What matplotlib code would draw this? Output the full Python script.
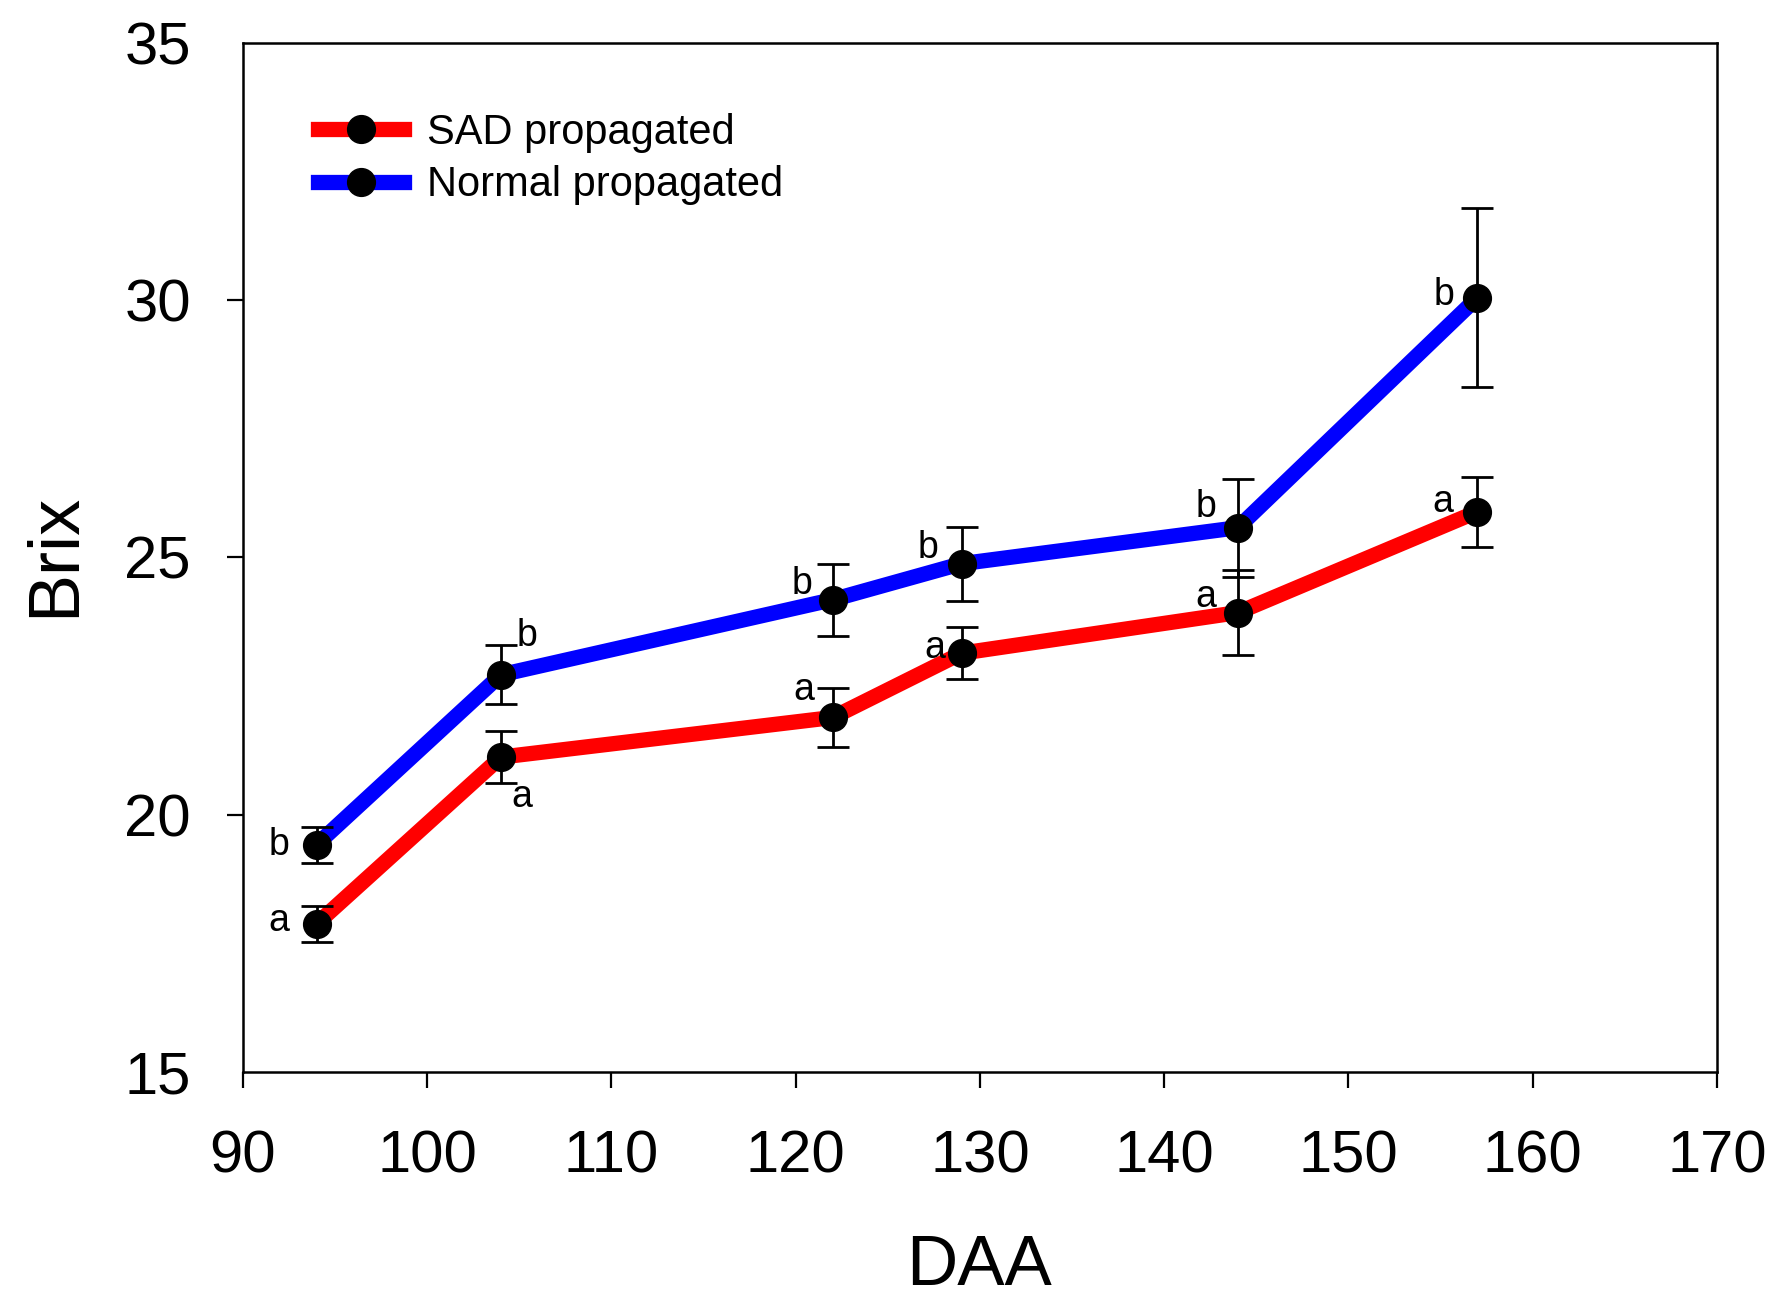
import matplotlib
matplotlib.use("Agg")
import matplotlib.pyplot as plt
from matplotlib.lines import Line2D

plt.rcParams['font.family'] = ['Liberation Sans', 'DejaVu Sans']

# Données
daa = [94, 104, 122, 129, 144, 157]
sad_brix = [17.88, 21.12, 21.89, 23.14, 23.93, 25.89]
sad_err = [0.35, 0.50, 0.57, 0.50, 0.82, 0.68]
normal_brix = [19.42, 22.72, 24.18, 24.88, 25.58, 30.05]
normal_err = [0.35, 0.57, 0.70, 0.72, 0.95, 1.74]
sad_letters = ['a', 'a', 'a', 'a', 'a', 'a']
normal_letters = ['b', 'b', 'b', 'b', 'b', 'b']

# décalage des lettres (points)
sad_offsets = [(-27, 2), (15, -29), (-21, 20), (-19, 4), (-23, 11), (-25, 7)]
normal_offsets = [(-27, 0), (19, 28), (-22, 11), (-24, 11), (-23, 15), (-24, 2)]

fig = plt.figure(figsize=(17.75, 13.03), dpi=100)
ax = fig.add_axes([0.1369, 0.1773, 0.8304, 0.7897])

series = [
    (sad_brix, sad_err, 'red', sad_letters, sad_offsets),
    (normal_brix, normal_err, 'blue', normal_letters, normal_offsets),
]
for y, err, col, letters, offs in series:
    ax.plot(daa, y, color=col, lw=11, solid_capstyle='round', zorder=2)
    ax.errorbar(daa, y, yerr=err, fmt='none', ecolor='black', elinewidth=2,
                capsize=11.5, capthick=2, zorder=3)
    ax.plot(daa, y, 'o', color='black', ms=20, zorder=4)
    for xi, yi, lab, off in zip(daa, y, letters, offs):
        ax.annotate(lab, (xi, yi), xytext=off, textcoords='offset points',
                    ha='center', va='center', fontsize=27, zorder=5)

ax.set_xlim(90, 170)
ax.set_ylim(15, 35)
ax.set_xticks(range(90, 171, 10))
ax.set_yticks(range(15, 36, 5))
ax.tick_params(direction='out', length=11.5, width=1.6, labelsize=43)
ax.tick_params(axis='x', pad=30)
ax.tick_params(axis='y', pad=26)
for sp in ax.spines.values():
    sp.set_linewidth(1.8)
yt = ax.yaxis.get_major_ticks()
yt[0].tick1line.set_visible(False)
yt[-1].tick1line.set_visible(False)

fig.text(0.5515, 1 - 1285 / 1303, 'DAA', fontsize=51, ha='center', va='baseline')
fig.text(74 / 1775, 0.574, 'Brix', fontsize=52, rotation=90, ha='center',
         va='baseline', rotation_mode='anchor')

handles = [
    Line2D([], [], color='red', lw=11, marker='o', ms=20, mfc='black', mec='black'),
    Line2D([], [], color='blue', lw=11, marker='o', ms=20, mfc='black', mec='black'),
]
ax.legend(handles, ['SAD propagated', 'Normal propagated'], loc='upper left',
          bbox_to_anchor=(0.051, 0.932), frameon=False, fontsize=30,
          handlelength=2.05, handletextpad=0.55, labelspacing=0.3,
          borderpad=0, borderaxespad=0)

fig.savefig('out.png', dpi=100)
